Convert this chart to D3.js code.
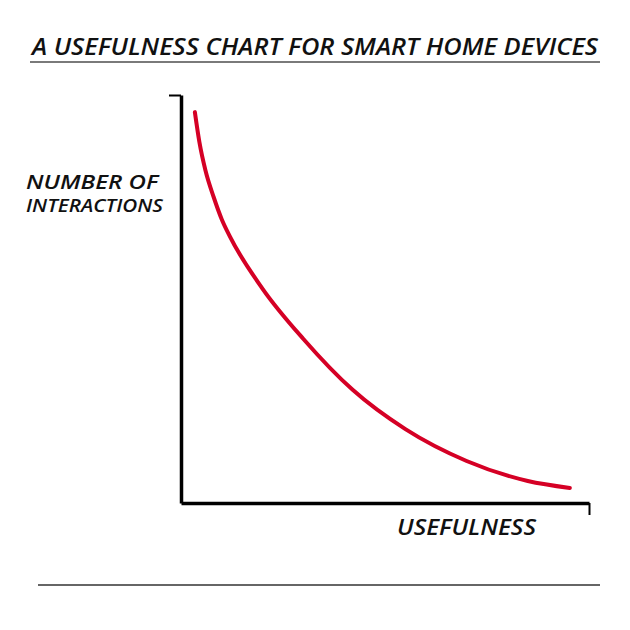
<!DOCTYPE html>
<html>
<head>
<meta charset="utf-8">
<script src="https://cdn.jsdelivr.net/npm/d3@7"></script>
<style>
  html, body { margin: 0; padding: 0; background: #fff; }
  text { font-family: "Open Sans", "DejaVu Sans", sans-serif; font-style: italic; font-weight: 600; fill: #111; }
</style>
</head>
<body>
<svg id="chart" width="630" height="630"></svg>
<script>
const title = "A USEFULNESS CHART FOR SMART HOME DEVICES";
const yLabelLines = ["NUMBER OF", "INTERACTIONS"];
const xLabel = "USEFULNESS";
const usefulness = [3.4, 4.5, 6.0, 8.0, 10.0, 12.0, 20.0, 30.0, 42.0, 55.0, 70.0, 85.0, 95.3];
const interactions = [95.8, 88.5, 81.5, 75.0, 69.5, 65.3, 52.5, 40.2, 27.8, 18.1, 10.3, 5.4, 3.7];

const svg = d3.select("#chart");
const x = d3.scaleLinear().domain([0, 100]).range([181, 589]);
const y = d3.scaleLinear().domain([0, 100]).range([503, 95]);

// Title + underline
svg.append("text").attr("x", 32).attr("y", 55)
  .attr("font-size", 23).attr("textLength", 566).attr("lengthAdjust", "spacingAndGlyphs")
  .text(title);
svg.append("line").attr("x1", 30).attr("x2", 600).attr("y1", 62).attr("y2", 62)
  .attr("stroke", "#7a7a7a").attr("stroke-width", 2);

// Bottom rule
svg.append("line").attr("x1", 38).attr("x2", 600).attr("y1", 585).attr("y2", 585)
  .attr("stroke", "#666").attr("stroke-width", 2);

// Axes
const yAxis = d3.axisLeft(y).tickValues([100]).tickFormat("").tickSizeInner(12).tickSizeOuter(0);
const gy = svg.append("g").attr("transform", "translate(181,0)").call(yAxis);
gy.select(".domain").attr("stroke", "#000").attr("stroke-width", 3.5);
gy.selectAll(".tick line").attr("stroke", "#000").attr("stroke-width", 2);

const xAxis = d3.axisBottom(x).tickValues([100]).tickFormat("").tickSizeInner(12).tickSizeOuter(0);
const gx = svg.append("g").attr("transform", "translate(0,503)").call(xAxis);
gx.select(".domain").attr("stroke", "#000").attr("stroke-width", 3.5);
gx.selectAll(".tick line").attr("stroke", "#000").attr("stroke-width", 2);

// Curve
const pts = usefulness.map((u, i) => [u, interactions[i]]);
const line = d3.line().x(d => x(d[0])).y(d => y(d[1])).curve(d3.curveMonotoneX);
svg.append("path").datum(pts).attr("d", line)
  .attr("fill", "none").attr("stroke", "#d50025").attr("stroke-width", 4).attr("stroke-linecap", "round");

// Y label
svg.append("text").attr("x", 26).attr("y", 189).attr("font-size", 20)
  .attr("textLength", 132).attr("lengthAdjust", "spacingAndGlyphs").text(yLabelLines[0]);
svg.append("text").attr("x", 26).attr("y", 212).attr("font-size", 18)
  .attr("textLength", 137).attr("lengthAdjust", "spacingAndGlyphs").text(yLabelLines[1]);

// X label
svg.append("text").attr("x", 397).attr("y", 535).attr("font-size", 21)
  .attr("textLength", 139).attr("lengthAdjust", "spacingAndGlyphs").text(xLabel);
</script>
</body>
</html>
